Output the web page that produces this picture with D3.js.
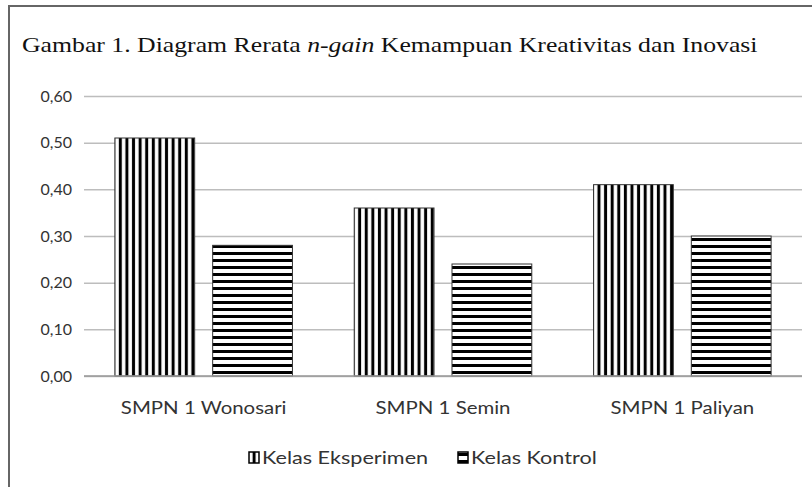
<!DOCTYPE html>
<html>
<head>
<meta charset="utf-8">
<script src="https://cdn.jsdelivr.net/npm/d3@7"></script>
<style>
  body { margin: 0; background: #fff; }
  svg text { fill: #333; }
</style>
</head>
<body>
<div id="chart"></div>
<script>
// chart data
var schools = ["SMPN 1 Wonosari", "SMPN 1 Semin", "SMPN 1 Paliyan"];
var seriesNames = ["Kelas Eksperimen", "Kelas Kontrol"];
var eksperimen = [0.51, 0.36, 0.41];
var kontrol = [0.28, 0.24, 0.30];
var yTicks = [0, 0.1, 0.2, 0.3, 0.4, 0.5, 0.6];

var svgWidth = 812, svgHeight = 487;
var margin = {top: 96, left: 84, right: 10, bottom: 111};
var chartWidth = svgWidth - margin.left - margin.right;
var chartHeight = svgHeight - margin.top - margin.bottom;

// the source picture is a bit wider than tall, stretch text to match
var stretch = 1.2;
function widen(sel, k) {
    sel.each(function() {
        var w = this.getComputedTextLength();
        d3.select(this).attr("textLength", w * k).attr("lengthAdjust", "spacingAndGlyphs");
    });
}

var svg = d3.select("#chart").append("svg")
    .attr("width", svgWidth)
    .attr("height", svgHeight);

// stripe patterns
var defs = svg.append("defs");
var pv = defs.append("pattern").attr("id", "vstripe")
    .attr("patternUnits", "userSpaceOnUse")
    .attr("width", 6.6).attr("height", 10);
pv.append("rect").attr("width", 6.6).attr("height", 10).attr("fill", "#fff");
pv.append("rect").attr("x", 1.8).attr("width", 3).attr("height", 10).attr("fill", "#000");

var ph = defs.append("pattern").attr("id", "hstripe")
    .attr("patternUnits", "userSpaceOnUse")
    .attr("width", 10).attr("height", 7);
ph.append("rect").attr("width", 10).attr("height", 7).attr("fill", "#fff");
ph.append("rect").attr("y", 2).attr("width", 10).attr("height", 3).attr("fill", "#000");

var fills = ["url(#vstripe)", "url(#hstripe)"];

// frame
svg.append("path")
    .attr("d", "M9,487 V6 H812")
    .attr("fill", "none")
    .attr("stroke", "#666")
    .attr("stroke-width", 2);

// title
var title = svg.append("text")
    .attr("x", 22).attr("y", 52)
    .style("font-family", "'Liberation Serif', 'Times New Roman', serif")
    .style("font-size", "22px")
    .style("fill", "#111");
title.append("tspan").text("Gambar 1. Diagram Rerata ");
title.append("tspan").style("font-style", "italic").text("n-gain");
title.append("tspan").text(" Kemampuan Kreativitas dan Inovasi");
widen(title, 1.17);

var chartGroup = svg.append("g")
    .attr("transform", `translate(${margin.left},${margin.top})`);

var x0 = d3.scaleBand().domain(schools).range([0, chartWidth]).paddingInner(0).paddingOuter(0);
var x1 = d3.scaleBand().domain(seriesNames).range([0, x0.bandwidth()]).paddingInner(0.184).paddingOuter(0.316);
var y = d3.scaleLinear().domain([0, 0.6]).range([chartHeight, 0]);

// grid
var grid = d3.axisLeft(y).tickValues(yTicks).tickSize(-chartWidth).tickFormat("");
chartGroup.append("g").call(grid)
    .call(g => g.select(".domain").remove())
    .selectAll("line").attr("stroke", "#bdbdbd").attr("stroke-width", 1.5);

// y labels
var yAxis = d3.axisLeft(y).tickValues(yTicks).tickSize(0).tickPadding(12)
    .tickFormat(d => d3.format(".2f")(d).replace(".", ","));
chartGroup.append("g").call(yAxis)
    .call(g => g.select(".domain").remove())
    .selectAll("text")
    .style("font-family", "Lato, 'Open Sans', sans-serif")
    .style("font-size", "16px")
    .style("fill", "#333");

// bars
var rows = schools.map((s, i) => ({school: s, values: [eksperimen[i], kontrol[i]]}));
var groups = chartGroup.selectAll(".grp").data(rows).enter().append("g")
    .attr("transform", d => `translate(${x0(d.school)},0)`);
groups.selectAll("rect")
    .data(d => d.values.map((v, j) => ({name: seriesNames[j], value: v, j: j})))
    .enter().append("rect")
    .attr("x", d => x1(d.name))
    .attr("y", d => y(d.value))
    .attr("width", x1.bandwidth())
    .attr("height", d => chartHeight - y(d.value))
    .attr("fill", d => fills[d.j])
    .attr("stroke", "#333")
    .attr("stroke-width", 1);

// baseline
chartGroup.append("line")
    .attr("x1", 0).attr("x2", chartWidth)
    .attr("y1", chartHeight).attr("y2", chartHeight)
    .attr("stroke", "#999").attr("stroke-width", 1.5);

// x labels
var xAxis = d3.axisBottom(x0).tickSize(0).tickPadding(26);
chartGroup.append("g")
    .attr("transform", `translate(0,${chartHeight})`)
    .call(xAxis)
    .call(g => g.select(".domain").remove())
    .selectAll("text")
    .style("font-family", "Lato, 'Open Sans', sans-serif")
    .style("font-size", "17px")
    .style("fill", "#333")
    .call(widen, stretch);

// legend
var legendItems = [{name: seriesNames[0], x: 249, j: 0}, {name: seriesNames[1], x: 458, j: 1}];
var legend = svg.append("g").attr("transform", "translate(0,458)");
legendItems.forEach(function(it) {
    legend.append("rect")
        .attr("x", it.x).attr("y", -6)
        .attr("width", 10).attr("height", 11)
        .attr("fill", it.j === 0 ? "url(#vstripe)" : "url(#hstripe)")
        .attr("stroke", "#000").attr("stroke-width", 1.5);
    legend.append("text")
        .attr("x", it.x + 13).attr("y", 6)
        .style("font-family", "Lato, 'Open Sans', sans-serif")
        .style("font-size", "18px")
        .style("fill", "#333")
        .text(it.name)
        .call(widen, stretch);
});
</script>
</body>
</html>
